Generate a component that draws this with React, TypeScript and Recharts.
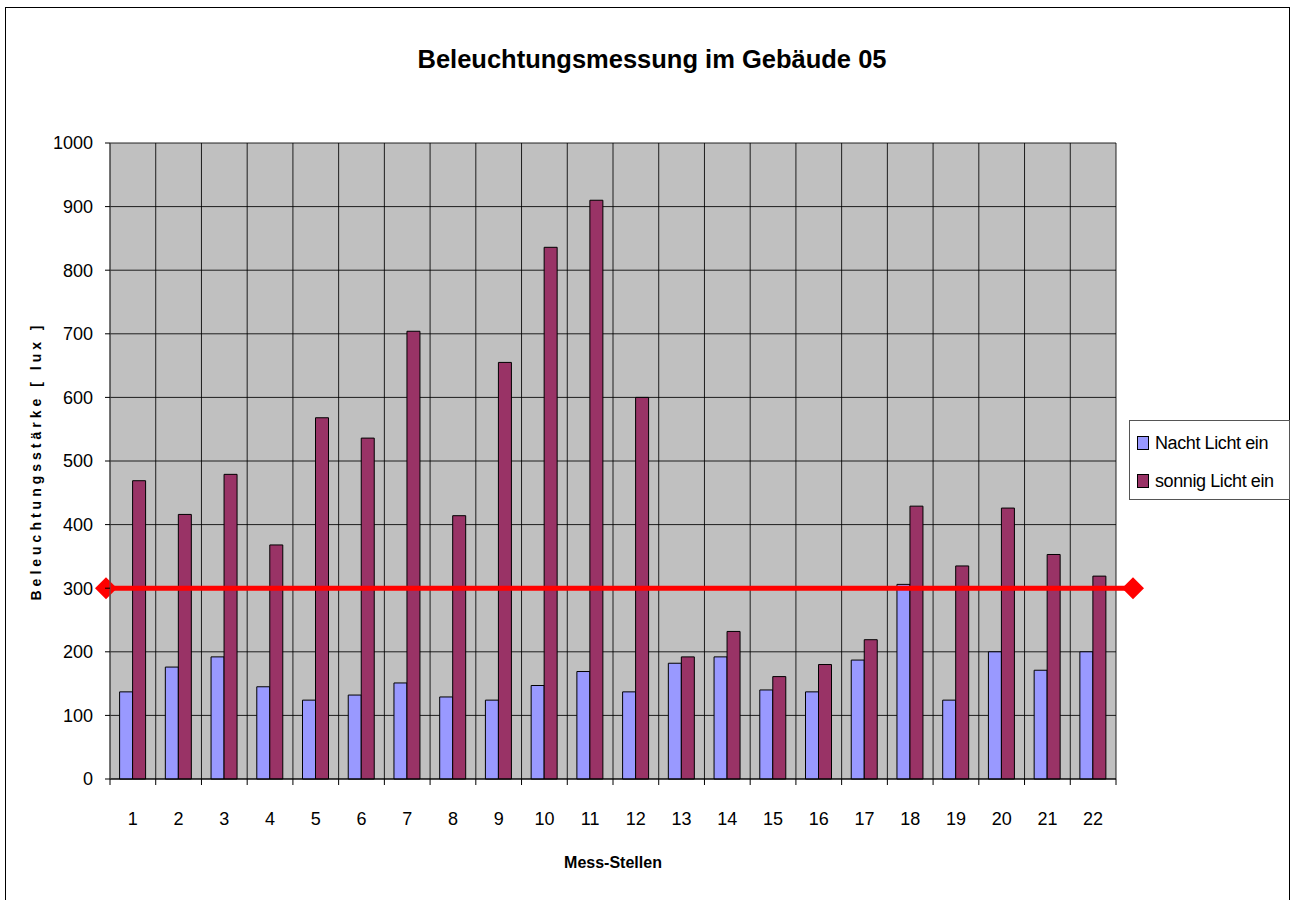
import React from "react";
import {
  BarChart, Bar, XAxis, YAxis, CartesianGrid, ReferenceLine, Label,
} from "recharts";

const categories = ["1", "2", "3", "4", "5", "6", "7", "8", "9", "10", "11", "12", "13", "14", "15", "16", "17", "18", "19", "20", "21", "22"];
const nachtLichtEin = [137, 176, 192, 145, 124, 132, 151, 129, 124, 147, 169, 137, 182, 192, 140, 137, 187, 306, 124, 200, 171, 200];
const sonnigLichtEin = [469, 416, 479, 368, 568, 536, 704, 414, 655, 836, 910, 600, 192, 232, 161, 180, 219, 429, 335, 426, 353, 319];
const yTicks = [0, 100, 200, 300, 400, 500, 600, 700, 800, 900, 1000];
const sollwert = 300;

const series = [
  { key: "nacht", name: "Nacht Licht ein", color: "#9999FF" },
  { key: "sonnig", name: "sonnig Licht ein", color: "#993366" },
];

const data = categories.map((c, i) => ({ stelle: c, pos: i + 0.5, nacht: nachtLichtEin[i], sonnig: sonnigLichtEin[i] }));
// boundaries between the categories, used for the vertical grid lines
const boundaries = [...categories.map((_, i) => i), categories.length];

const font = "'Liberation Sans', Arial, sans-serif";

const W = 1292;
const H = 900;
const margin = { top: 143, left: 40, right: 176, bottom: 81 };
const yAxisW = 70;
const band = (W - margin.left - yAxisW - margin.right) / categories.length;

// red target line, runs a little past the plot area with a diamond at each end
function SollLinie(props: any) {
  const { x1, x2, y1 } = props;
  const a = x1 - 4;
  const b = x2 + 17;
  const d = 11;
  const diamond = (cx: number) => `${cx - d},${y1} ${cx},${y1 - d} ${cx + d},${y1} ${cx},${y1 + d}`;
  return (
    <g>
      <line x1={a} y1={y1} x2={b} y2={y1} stroke="#FF0000" strokeWidth={5} />
      <polygon points={diamond(a)} fill="#FF0000" />
      <polygon points={diamond(b)} fill="#FF0000" />
    </g>
  );
}

// category label plus the small tick marks on the category borders
function StelleTick(props: any) {
  const { x, y, payload, index } = props;
  const left = x - band / 2;
  const axisY = y - 33;
  return (
    <g>
      <line x1={left} y1={axisY} x2={left} y2={axisY + 6} stroke="#000" />
      {index === categories.length - 1 && (
        <line x1={left + band} y1={axisY} x2={left + band} y2={axisY + 6} stroke="#000" />
      )}
      <text x={x} y={y} dy="0.71em" textAnchor="middle" fontFamily={font} fontSize={18} fill="#000">
        {payload.value}
      </text>
    </g>
  );
}

function LegendBox() {
  return (
    <div style={{ position: "absolute", left: 1129, top: 420, border: "1px solid #555", background: "#fff", width: 161, height: 80, boxSizing: "border-box", padding: "3px 0 0 7px", fontFamily: font, fontSize: 18 }}>
      {series.map((s) => (
        <div key={s.key} style={{ display: "flex", alignItems: "center", height: 38, letterSpacing: -0.4, whiteSpace: "nowrap" }}>
          <span style={{ width: 10, height: 12, background: s.color, border: "1px solid #000", marginRight: 6, display: "inline-block" }} />
          <span>{s.name}</span>
        </div>
      ))}
    </div>
  );
}

export default function App() {
  return (
    <div style={{ position: "absolute", left: 0, top: 0, width: W, height: H, background: "#fff" }}>
      <div style={{ position: "absolute", left: 5, top: 7, width: 1285, height: 900, border: "1px solid #000", boxSizing: "border-box" }} />
      <div style={{ position: "absolute", left: 0, width: 1304, top: 45, textAlign: "center", fontFamily: font, fontWeight: "bold", fontSize: 25.5 }}>
        Beleuchtungsmessung im Gebäude 05
      </div>
      <div style={{ position: "absolute", left: 0, top: 0 }}>
        <BarChart
          width={W}
          height={H}
          data={data}
          margin={margin}
          barCategoryGap="21%"
          barGap={0}
        >
          <XAxis
            xAxisId="grid"
            dataKey="pos"
            type="number"
            domain={[0, categories.length]}
            ticks={boundaries}
            allowDataOverflow
            hide
          />
          <XAxis
            dataKey="stelle"
            height={40}
            tickLine={false}
            tickSize={0}
            tickMargin={33}
            axisLine={{ stroke: "#000" }}
            tick={<StelleTick />}
            interval={0}
          >
            <Label
              content={({ viewBox }: any) => (
                <text x={viewBox.x + viewBox.width / 2} y={868} textAnchor="middle" fontFamily={font} fontWeight="bold" fontSize={16} fill="#000">
                  Mess-Stellen
                </text>
              )}
            />
          </XAxis>
          <YAxis
            domain={[0, 1000]}
            ticks={yTicks}
            width={yAxisW}
            tickSize={5}
            tickMargin={12}
            tickLine={{ stroke: "#000" }}
            axisLine={{ stroke: "#555" }}
            tick={{ fill: "#000", fontSize: 18, fontFamily: font }}
          >
            <Label
              content={({ viewBox }: any) => (
                <text
                  transform={`translate(41, ${viewBox.y + viewBox.height / 2}) rotate(-90)`}
                  textAnchor="middle"
                  fontFamily={font}
                  fontWeight="bold"
                  fontSize={14}
                  letterSpacing={4}
                  fill="#000"
                >
                  Beleuchtungsstärke [ lux ]
                </text>
              )}
            />
          </YAxis>
          <CartesianGrid xAxisId="grid" fill="#C0C0C0" stroke="#000" strokeWidth={1} strokeOpacity={0.85} />
          {series.map((s) => (
            <Bar key={s.key} dataKey={s.key} name={s.name} fill={s.color} stroke="#000" strokeWidth={1} isAnimationActive={false} />
          ))}
          <ReferenceLine y={sollwert} shape={SollLinie} />
        </BarChart>
      </div>
      <LegendBox />
    </div>
  );
}
